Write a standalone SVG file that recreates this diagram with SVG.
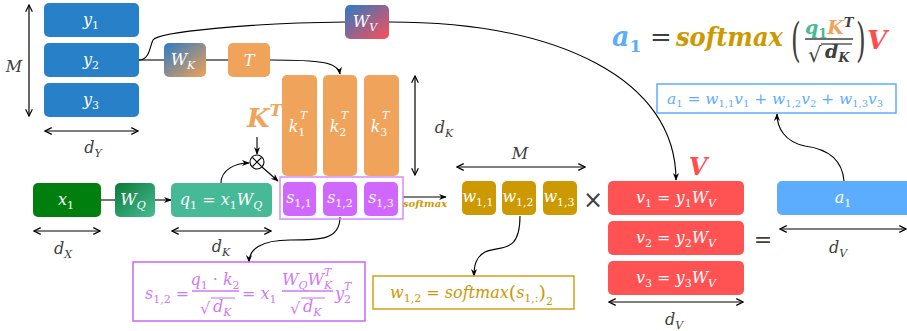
<svg xmlns="http://www.w3.org/2000/svg" width="907" height="331" viewBox="0 0 907 331">
<style>
.m{font-family:"DejaVu Serif","Liberation Serif",serif;font-style:italic}
.w{fill:#fff;font-size:16px;text-anchor:middle}
.d{fill:#404040;font-size:16px;text-anchor:middle}
.n{font-style:normal}
.dim{stroke:#000;stroke-width:1.2;fill:none;marker-start:url(#dh);marker-end:url(#dh)}
.con{stroke:#000;stroke-width:1.1;fill:none}
.arr{marker-end:url(#ah)}
.gl{stroke:#555;stroke-width:1.6;fill:none}
</style>
<defs>
<marker id="ah" viewBox="0 0 10 10" refX="9" refY="5" markerWidth="7" markerHeight="7" orient="auto-start-reverse"><path d="M0,1 L10,5 L0,9 L3,5 Z" fill="#000"/></marker>
<marker id="dh" viewBox="0 0 10 10" refX="9" refY="5" markerWidth="7" markerHeight="7" orient="auto-start-reverse"><path d="M1,1 L9,5 L1,9" fill="none" stroke="#000" stroke-width="1.4"/></marker>
<linearGradient id="gK" x1="0" y1="0" x2="1" y2="1"><stop offset="0" stop-color="#2B7BC6"/><stop offset="1" stop-color="#F2A252"/></linearGradient>
<linearGradient id="gV" x1="0" y1="0" x2="1" y2="1"><stop offset="0" stop-color="#2B7BC6"/><stop offset="1" stop-color="#FF4D55"/></linearGradient>
<linearGradient id="gQ" x1="0" y1="0" x2="1" y2="1"><stop offset="0" stop-color="#0B7A35"/><stop offset="1" stop-color="#48BC97"/></linearGradient>
</defs>

<g id="connectors">
<line class="gl" x1="139" y1="60" x2="164" y2="60"/>
<line class="gl" x1="206" y1="60" x2="228" y2="60"/>
<path class="con" d="M139,60 C150,60 150,45 153,40 C158,32 250,23 345,22"/>
<path class="con arr" d="M389,22 C560,22 676,80 676,180"/>
<path class="con arr" d="M270,60 C320,60 338,62 340,74"/>
<line class="gl" x1="101" y1="200" x2="115" y2="200"/>
<path class="con arr" d="M155,200 L171,200"/>
<path class="con arr" d="M221,183 C221,170 235,163 249,163"/>
<path class="con arr" d="M262,167 L278,181"/>
<path class="con arr" d="M257,137 L257,154"/>
<path class="con arr" d="M403,197 L446,197"/>
<path class="con arr" d="M340,217 C340,240 320,240 290,240 C260,240 249,250 249,262"/>
<path class="con arr" d="M520,216 C520,255 500,245 485,252 C476,257 474,265 474,276"/>
<path class="con arr" d="M844,181 C842,155 820,148 805,146 C785,142 777,128 777,114"/>
<line class="dim" x1="29" y1="5" x2="29" y2="116"/>
<line class="dim" x1="45" y1="131" x2="138" y2="131"/>
<line class="dim" x1="415" y1="76" x2="415" y2="175"/>
<line class="dim" x1="34" y1="231" x2="100" y2="231"/>
<line class="dim" x1="172" y1="231" x2="271" y2="231"/>
<line class="dim" x1="457" y1="167" x2="585" y2="167"/>
<line class="dim" x1="609" y1="302" x2="743" y2="302"/>
<line class="dim" x1="780" y1="229" x2="906" y2="229"/>
</g>

<g id="Y">
<rect x="44" y="3" width="95" height="34" rx="5" fill="#2881C8"/>
<rect x="44" y="43" width="95" height="34" rx="5" fill="#2881C8"/>
<rect x="44" y="83" width="95" height="34" rx="5" fill="#2881C8"/>
<text class="m w" x="91" y="25">y<tspan class="n" font-size="11" dy="4">1</tspan></text>
<text class="m w" x="91" y="65">y<tspan class="n" font-size="11" dy="4">2</tspan></text>
<text class="m w" x="91" y="105">y<tspan class="n" font-size="11" dy="4">3</tspan></text>
</g>
<g id="WK"><rect x="164" y="43" width="42" height="34" rx="5" fill="url(#gK)"/><text class="m w" x="183" y="65">W<tspan font-size="11" dy="4">K</tspan></text></g>
<g id="T"><rect x="228" y="43" width="42" height="34" rx="5" fill="#F0A35B"/><text class="m w" x="249" y="66">T</text></g>
<g id="WV"><rect x="345" y="5" width="44" height="34" rx="5" fill="url(#gV)"/><text class="m w" x="365" y="27">W<tspan font-size="11" dy="4">V</tspan></text></g>

<g id="KT">
<rect x="282" y="75" width="35" height="101" rx="5" fill="#F0A35B"/>
<rect x="323" y="75" width="34" height="101" rx="5" fill="#F0A35B"/>
<rect x="364" y="75" width="35" height="101" rx="5" fill="#F0A35B"/>
<text class="m w" x="297" y="132">k<tspan class="n" font-size="11" dy="4">1</tspan></text><text class="m" x="300" y="119" fill="#fff" font-size="11">T</text>
<text class="m w" x="338" y="132">k<tspan class="n" font-size="11" dy="4">2</tspan></text><text class="m" x="341" y="119" fill="#fff" font-size="11">T</text>
<text class="m w" x="379" y="132">k<tspan class="n" font-size="11" dy="4">3</tspan></text><text class="m" x="382" y="119" fill="#fff" font-size="11">T</text>
<text class="m" x="247" y="127" font-size="26" font-weight="bold" fill="#F0A35B">K<tspan font-size="17" dy="-11">T</tspan></text>
</g>
<g id="mul"><circle cx="257" cy="162" r="7" fill="#fff" stroke="#000" stroke-width="1.1"/><path d="M252.5,157.5 L261.5,166.5 M261.5,157.5 L252.5,166.5" stroke="#000" stroke-width="1.1"/></g>

<g id="X"><rect x="33" y="183" width="68" height="34" rx="5" fill="#007F0E"/><text class="m w" x="66" y="205">x<tspan class="n" font-size="11" dy="4">1</tspan></text></g>
<g id="WQ"><rect x="115" y="183" width="40" height="34" rx="5" fill="url(#gQ)"/><text class="m w" x="133" y="205">W<tspan font-size="11" dy="4">Q</tspan></text></g>
<g id="Q"><rect x="171" y="183" width="101" height="34" rx="5" fill="#46BA96"/><text class="m w" x="221" y="205">q<tspan class="n" font-size="11" dy="4">1</tspan><tspan dy="-4"> = x</tspan><tspan class="n" font-size="11" dy="4">1</tspan><tspan dy="-4">W</tspan><tspan font-size="11" dy="4">Q</tspan></text></g>

<g id="S">
<rect x="280" y="177" width="123" height="42" fill="none" stroke="#D58CFF" stroke-width="1.5"/>
<rect x="283" y="182" width="33" height="34" rx="5" fill="#D068FF"/>
<rect x="323" y="182" width="34" height="34" rx="5" fill="#D068FF"/>
<rect x="364" y="182" width="34" height="34" rx="5" fill="#D068FF"/>
<text class="m w" x="299" y="203">s<tspan class="n" font-size="11" dy="4">1,1</tspan></text>
<text class="m w" x="340" y="203">s<tspan class="n" font-size="11" dy="4">1,2</tspan></text>
<text class="m w" x="381" y="203">s<tspan class="n" font-size="11" dy="4">1,3</tspan></text>
</g>
<text class="m" x="425" y="207" font-size="10" font-weight="bold" fill="#CC9900" text-anchor="middle">softmax</text>

<g id="W">
<rect x="462" y="181" width="34" height="34" rx="5" fill="#CC9900"/>
<rect x="502" y="181" width="34" height="34" rx="5" fill="#CC9900"/>
<rect x="543" y="181" width="34" height="34" rx="5" fill="#CC9900"/>
<text class="m w" x="478" y="202">w<tspan class="n" font-size="11" dy="4">1,1</tspan></text>
<text class="m w" x="518" y="202">w<tspan class="n" font-size="11" dy="4">1,2</tspan></text>
<text class="m w" x="559" y="202">w<tspan class="n" font-size="11" dy="4">1,3</tspan></text>
</g>
<text x="593" y="208" font-family="DejaVu Sans,sans-serif" font-size="24" fill="#404040" text-anchor="middle">×</text>

<g id="V">
<rect x="608" y="181" width="136" height="34" rx="5" fill="#FF5252"/>
<rect x="608" y="221" width="136" height="34" rx="5" fill="#FF5252"/>
<rect x="608" y="261" width="136" height="34" rx="5" fill="#FF5252"/>
<text class="m w" x="676" y="203">v<tspan class="n" font-size="11" dy="4">1</tspan><tspan dy="-4"> = y</tspan><tspan class="n" font-size="11" dy="4">1</tspan><tspan dy="-4">W</tspan><tspan font-size="11" dy="4">V</tspan></text>
<text class="m w" x="676" y="243">v<tspan class="n" font-size="11" dy="4">2</tspan><tspan dy="-4"> = y</tspan><tspan class="n" font-size="11" dy="4">2</tspan><tspan dy="-4">W</tspan><tspan font-size="11" dy="4">V</tspan></text>
<text class="m w" x="676" y="283">v<tspan class="n" font-size="11" dy="4">3</tspan><tspan dy="-4"> = y</tspan><tspan class="n" font-size="11" dy="4">3</tspan><tspan dy="-4">W</tspan><tspan font-size="11" dy="4">V</tspan></text>
<text class="m" x="698" y="175" font-size="24" font-weight="bold" fill="#FF4D4D" text-anchor="middle">V</text>
</g>
<text x="763" y="247" font-family="DejaVu Sans,sans-serif" font-size="22" fill="#404040" text-anchor="middle">=</text>
<g id="A"><rect x="777" y="181" width="140" height="34" rx="5" fill="#5DADFF"/><text class="m w" x="843" y="203">a<tspan class="n" font-size="11" dy="4">1</tspan></text></g>

<g id="dims" class="m">
<text class="d" x="14" y="72">M</text>
<text class="d" x="93" y="153">d<tspan font-size="11" dy="4">Y</tspan></text>
<text class="d" x="63" y="254">d<tspan font-size="11" dy="4">X</tspan></text>
<text class="d" x="221" y="252">d<tspan font-size="11" dy="4">K</tspan></text>
<text class="d" x="444" y="133">d<tspan font-size="11" dy="4">K</tspan></text>
<text class="d" x="520" y="159">M</text>
<text class="d" x="674" y="325">d<tspan font-size="11" dy="4">V</tspan></text>
<text class="d" x="838" y="253">d<tspan font-size="11" dy="4">V</tspan></text>
</g>

<g id="formula" class="m" font-weight="bold">
<text x="612" y="46" font-size="27" fill="#5DADFF">a<tspan class="n" font-size="17" dy="6">1</tspan></text>
<text x="650" y="46" font-size="26" fill="#404040" font-weight="normal" class="n">=</text>
<text x="676" y="46" font-size="26" fill="#CC9900" textLength="107" lengthAdjust="spacingAndGlyphs">softmax</text>
<text transform="translate(791,56) scale(1,1.9)" font-size="25" font-weight="normal" fill="#404040" class="n">(</text>
<text x="805" y="34" font-size="19"><tspan fill="#46BA96">q</tspan><tspan fill="#46BA96" class="n" font-size="13" dy="4">1</tspan><tspan fill="#F0A35B" dy="-4">K</tspan><tspan fill="#404040" font-size="13" dy="-7">T</tspan></text>
<line x1="805" y1="39" x2="853" y2="39" stroke="#404040" stroke-width="1.6"/>
<text x="808" y="62" font-size="21" fill="#404040" font-weight="normal" class="n">√</text>
<line x1="821" y1="44" x2="852" y2="44" stroke="#404040" stroke-width="1.3"/>
<text x="825" y="58" font-size="19" fill="#404040">d<tspan font-size="13" dy="4">K</tspan></text>
<text transform="translate(856,56) scale(1,1.9)" font-size="25" font-weight="normal" fill="#404040" class="n">)</text>
<text x="867" y="49" font-size="26" fill="#FF4D4D">V</text>
</g>

<g id="fa">
<rect x="657" y="84" width="239" height="29" fill="none" stroke="#5DADFF" stroke-width="1.5"/>
<text class="m" x="667" y="104" font-size="15.4" fill="#5DADFF">a<tspan class="n" font-size="10" dy="3">1</tspan><tspan dy="-3"> = w</tspan><tspan class="n" font-size="10" dy="3">1,1</tspan><tspan dy="-3">v</tspan><tspan class="n" font-size="10" dy="3">1</tspan><tspan dy="-3" class="n"> + </tspan><tspan>w</tspan><tspan class="n" font-size="10" dy="3">1,2</tspan><tspan dy="-3">v</tspan><tspan class="n" font-size="10" dy="3">2</tspan><tspan dy="-3" class="n"> + </tspan><tspan>w</tspan><tspan class="n" font-size="10" dy="3">1,3</tspan><tspan dy="-3">v</tspan><tspan class="n" font-size="10" dy="3">3</tspan></text>
</g>

<g id="fs" class="m" fill="#CF78F8" font-size="16">
<rect x="133" y="262" width="232" height="59" fill="none" stroke="#CC66FF" stroke-width="1.5"/>
<text x="145" y="299">s<tspan class="n" font-size="11" dy="4">1,2</tspan><tspan dy="-4" class="n"> =</tspan></text>
<text x="215" y="285" text-anchor="middle">q<tspan class="n" font-size="11" dy="4">1</tspan><tspan dy="-4" class="n"> · </tspan>k<tspan class="n" font-size="11" dy="4">2</tspan></text>
<line x1="192" y1="291" x2="239" y2="291" stroke="#CF78F8" stroke-width="1.4"/>
<text x="200" y="314" class="n">√</text>
<line x1="211" y1="298" x2="235" y2="298" stroke="#CF78F8" stroke-width="1.1"/>
<text x="213" y="312">d<tspan font-size="11" dy="4">K</tspan></text>
<text x="242" y="299"><tspan class="n">= </tspan>x<tspan class="n" font-size="11" dy="4">1</tspan></text>
<text x="282" y="285">W<tspan font-size="11" dy="4">Q</tspan><tspan dy="-4">W</tspan><tspan font-size="11" dy="4">K</tspan></text>
<text x="324" y="276" font-size="11">T</text>
<line x1="282" y1="291" x2="333" y2="291" stroke="#CF78F8" stroke-width="1.4"/>
<text x="290" y="314" class="n">√</text>
<line x1="301" y1="298" x2="325" y2="298" stroke="#CF78F8" stroke-width="1.1"/>
<text x="303" y="312">d<tspan font-size="11" dy="4">K</tspan></text>
<text x="335" y="299">y<tspan class="n" font-size="11" dy="4">2</tspan></text>
<text x="344" y="290" font-size="11">T</text>
</g>

<g id="fw">
<rect x="373" y="276" width="201" height="33" fill="none" stroke="#D4A017" stroke-width="1.5"/>
<text class="m" x="390" y="298" font-size="16" fill="#CC9900">w<tspan class="n" font-size="11" dy="4">1,2</tspan><tspan dy="-4" class="n"> = </tspan>softmax<tspan class="n" font-size="19" dy="1">(</tspan><tspan dy="-1">s</tspan><tspan class="n" font-size="11" dy="4">1,:</tspan><tspan class="n" font-size="19" dy="-3">)</tspan><tspan class="n" font-size="11" dy="6">2</tspan></text>
</g>
</svg>
